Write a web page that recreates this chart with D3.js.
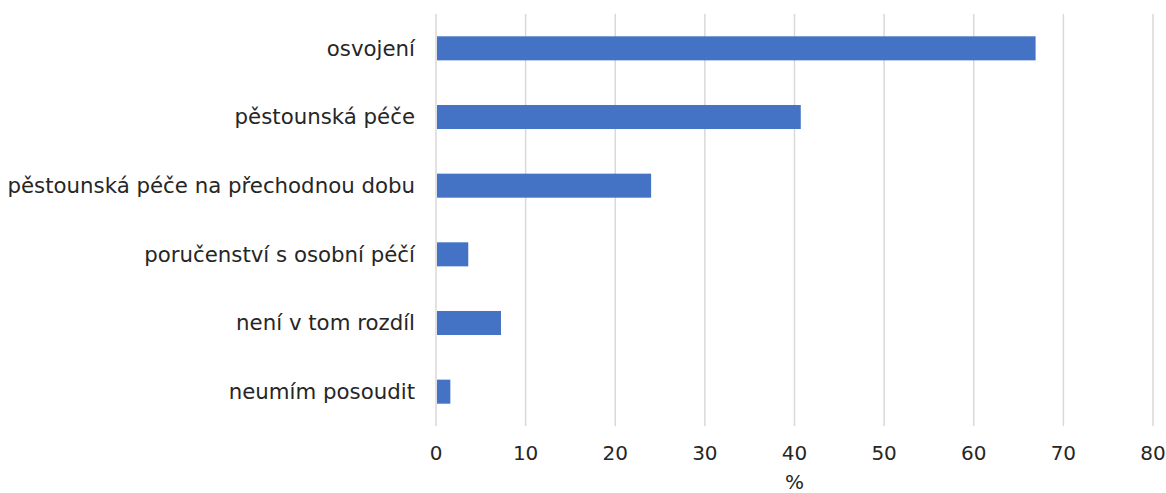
<!doctype html>
<html>
<head>
<meta charset="utf-8">
<script src="https://d3js.org/d3.v7.min.js"></script>
<style>
    body { margin: 0; background: #fff; overflow: hidden; }
    text { font-family: "DejaVu Sans", Verdana, sans-serif; fill: #262626; }
</style>
</head>
<body>
<script>
    // data
    var categories = ["osvojení", "pěstounská péče", "pěstounská péče na přechodnou dobu",
        "poručenství s osobní péčí", "není v tom rozdíl", "neumím posoudit"];
    var values = [66.9, 40.7, 24.0, 3.6, 7.25, 1.6];
    var xTicks = [0, 10, 20, 30, 40, 50, 60, 70, 80];

    var data = categories.map(function (c, i) { return {cat: c, val: values[i]}; });

    var W = 1166, H = 493;
    var margin = {top: 14, right: 13, bottom: 67, left: 436};
    var width = W - margin.left - margin.right,
        height = H - margin.top - margin.bottom;

    var svg = d3.select("body").append("svg")
        .attr("width", W)
        .attr("height", H)
        .append("g")
        .attr("transform", "translate(" + margin.left + "," + margin.top + ")");

    var x = d3.scaleLinear().domain([0, 80]).range([0, width]);
    var y = d3.scaleBand().domain(categories).range([0, height]).paddingInner(0.65).paddingOuter(0.325);

    // gridlines
    svg.append("g")
        .selectAll("line")
        .data(xTicks)
        .enter()
        .append("line")
        .attr("x1", function (d) { return x(d); })
        .attr("x2", function (d) { return x(d); })
        .attr("y1", 0)
        .attr("y2", height)
        .attr("stroke", "#d9d9d9")
        .attr("stroke-width", 1.5);

    // bars
    svg.append("g")
        .selectAll("rect")
        .data(data)
        .enter()
        .append("rect")
        .attr("x", x(0) + 1)
        .attr("y", function (d) { return y(d.cat); })
        .attr("width", function (d) { return x(d.val) - x(0) - 1; })
        .attr("height", y.bandwidth())
        .attr("fill", "#4472c4");

    // category labels
    svg.append("g")
        .selectAll("text")
        .data(categories)
        .enter()
        .append("text")
        .attr("x", -21)
        .attr("y", function (d) { return y(d) + y.bandwidth() / 2; })
        .attr("dy", "0.35em")
        .attr("text-anchor", "end")
        .attr("font-size", "21.3px")
        .text(function (d) { return d; });

    // x tick labels
    svg.append("g")
        .selectAll("text")
        .data(xTicks)
        .enter()
        .append("text")
        .attr("x", function (d) { return x(d); })
        .attr("y", height + 34)
        .attr("text-anchor", "middle")
        .attr("font-size", "20px")
        .text(function (d) { return d; });

    // axis title, slightly raised so it stays inside the frame
    svg.append("text")
        .attr("x", x(40))
        .attr("y", height + 63)
        .attr("text-anchor", "middle")
        .attr("font-size", "20px")
        .text("%");
</script>
</body>
</html>
